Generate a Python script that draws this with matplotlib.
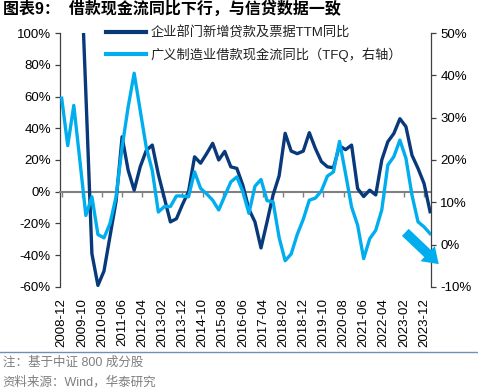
import matplotlib
matplotlib.use("Agg")
import matplotlib.pyplot as plt
from matplotlib.lines import Line2D
from matplotlib.ticker import FuncFormatter

plt.rcParams['font.family'] = ['Liberation Sans', 'Noto Sans CJK SC', 'DejaVu Sans']

# quarterly observations, 2008-12 .. 2024-03
quarters = ['2008-12', '2009-03', '2009-06', '2009-09', '2009-12', '2010-03', '2010-06', '2010-09',
            '2010-12', '2011-03', '2011-06', '2011-09', '2011-12', '2012-03', '2012-06', '2012-09',
            '2012-12', '2013-03', '2013-06', '2013-09', '2013-12', '2014-03', '2014-06', '2014-09',
            '2014-12', '2015-03', '2015-06', '2015-09', '2015-12', '2016-03', '2016-06', '2016-09',
            '2016-12', '2017-03', '2017-06', '2017-09', '2017-12', '2018-03', '2018-06', '2018-09',
            '2018-12', '2019-03', '2019-06', '2019-09', '2019-12', '2020-03', '2020-06', '2020-09',
            '2020-12', '2021-03', '2021-06', '2021-09', '2021-12', '2022-03', '2022-06', '2022-09',
            '2022-12', '2023-03', '2023-06', '2023-09', '2023-12', '2024-03']

# 企业部门新增贷款及票据TTM同比 (%), left axis
loans_ttm_yoy = [180, 190, 175, 160, 62, -39, -59, -50, -28, -6, 34.6, 13.6, 1, 15.7, 26, 29.4,
                 11, -4, -19, -17, -8, 0, 22, 18, 24, 30.5, 20, 25.4, 15.7, 14.7, 4, -11,
                 -19, -35.4, -19, -2, 10, 36.8, 25.6, 24, 25.6, 37.2, 27.3, 19, 15.7, 15.1,
                 29, 26.5, 29.4, 2, -3, 1, -2, 20, 31.5, 36.7, 46, 41, 23, 14.7, 5.2, -12.6]

# 广义制造业借款现金流同比 (TFQ, %), right axis
mfg_cf_yoy = [34.6, 23.4, 32.9, 20, 6.9, 11.3, 2.4, 1.6, 5, 11.3, 23, 32.5, 40.5, 31.7, 23, 17.5,
              7.7, 9, 9, 11.5, 11.5, 11.3, 17.2, 13.3, 12, 10.5, 8.2, 11.5, 14.8, 16, 12.5, 7.4,
              13.8, 15.4, 10.4, 10.1, 1.7, -3.8, -2.2, 2.4, 6, 10.5, 11, 12.7, 16.2, 17.2,
              24.4, 16.8, 8.9, 4.6, -3.3, 1.4, 3.4, 8.2, 18.8, 20.8, 24.7, 20.4, 11.7, 5.4, 4.2, 2.6]

tick_labels = ['2008-12', '2009-10', '2010-08', '2011-06', '2012-04', '2013-02', '2013-12',
               '2014-10', '2015-08', '2016-06', '2017-04', '2018-02', '2018-12', '2019-10',
               '2020-08', '2021-06', '2022-04', '2023-02', '2023-12']

legend_labels = ['企业部门新增贷款及票据TTM同比', '广义制造业借款现金流同比（TFQ，右轴）']


def month_index(s):
    y, m = s.split('-')
    return (int(y) - 2008) * 12 + int(m) - 12


x = [month_index(q) for q in quarters]
xt = [month_index(t) for t in tick_labels]

DARK = '#08397A'
LIGHT = '#00AEEF'
TXT = '#000000'

fig = plt.figure(figsize=(4.78, 3.92), dpi=100)
ax = fig.add_axes([0.1255, 0.2679, 0.7768, 0.6479])
ax2 = ax.twinx()

l1, = ax.plot(x, loans_ttm_yoy, color=DARK, lw=2.4, solid_joinstyle='round', zorder=3)
l2, = ax2.plot(x, mfg_cf_yoy, color=LIGHT, lw=2.4, solid_joinstyle='round', zorder=3)

ax.set_xlim(-0.85, 183.6)
ax.set_ylim(-60, 100)
ax.set_yticks(range(-60, 101, 20))
ax2.set_ylim(-10, 50)
ax2.set_yticks(range(-10, 51, 10))
pct = FuncFormatter(lambda v, p: f'{v:.0f}%')
ax.yaxis.set_major_formatter(pct)
ax2.yaxis.set_major_formatter(pct)

for s in ['top', 'right']:
    ax.spines[s].set_visible(False)
for s in ['top', 'left', 'bottom']:
    ax2.spines[s].set_visible(False)
ax.spines['left'].set_color('#404040')
ax.spines['left'].set_linewidth(0.9)
ax2.spines['right'].set_color('#404040')
ax2.spines['right'].set_linewidth(0.9)
ax.spines['bottom'].set_position(('data', 0))
ax.spines['bottom'].set_color('#808080')
ax.spines['bottom'].set_linewidth(1.5)

ax.set_xticks(xt)
ax.tick_params(axis='x', direction='out', length=3.5, width=1, color='#808080', labelbottom=False)
ax.tick_params(axis='y', direction='out', length=3.5, width=0.9, color='#404040',
               labelsize=9.5, labelcolor=TXT, pad=3)
ax2.tick_params(axis='y', direction='out', length=3.5, width=0.9, color='#404040',
                labelsize=9.5, labelcolor=TXT, pad=3)

sec = ax.secondary_xaxis('bottom')
sec.set_xticks(xt)
sec.set_xticklabels(tick_labels, rotation=90, fontsize=9.5, color=TXT)
sec.tick_params(length=0, pad=8)
sec.spines['bottom'].set_visible(False)

leg = ax2.legend([l1, l2], legend_labels, loc='upper left', bbox_to_anchor=(0.124, 1.028),
                 frameon=False, fontsize=9.5, handlelength=3.0, handletextpad=0.4,
                 labelspacing=0.62, borderpad=0, borderaxespad=0)
for t in leg.get_texts():
    t.set_color('#202020')
for h in leg.get_lines():
    h.set_linewidth(3)

ax2.annotate('', xy=(1.02, 0.09), xytext=(0.93, 0.215), xycoords='axes fraction',
             textcoords='axes fraction', annotation_clip=False,
             arrowprops=dict(arrowstyle='simple,head_length=1.1,head_width=1.5,tail_width=0.7',
                             color=LIGHT, mutation_scale=10, shrinkA=0, shrinkB=0, lw=0))

fig.text(0.006, 0.978, '图表9：  借款现金流同比下行，与信贷数据一致', fontsize=11.5,
         fontweight='bold', color='#000000', va='center', ha='left')

fig.add_artist(Line2D([0, 1], [1 - 351.7 / 392] * 2, transform=fig.transFigure,
                      color='#6F8FB8', lw=1))
fig.text(0.006, 1 - 362.5 / 392, '注：基于中证 800 成分股', fontsize=9, color='#7F7F7F',
         va='center', ha='left')
fig.text(0.006, 1 - 382.5 / 392, '资料来源：Wind，华泰研究', fontsize=9, color='#7F7F7F',
         va='center', ha='left')

fig.savefig('out.png', dpi=100)
